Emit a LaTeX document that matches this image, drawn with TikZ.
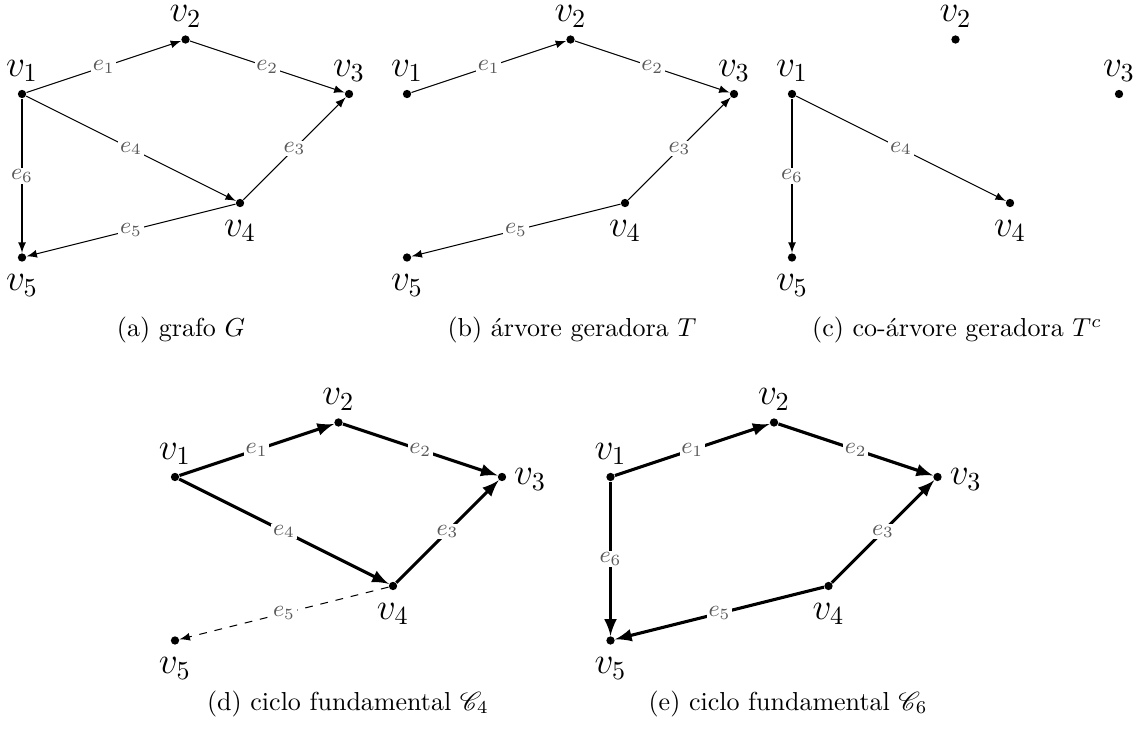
\documentclass[tikz,border=0pt]{standalone}
\usepackage{tikz}
\usetikzlibrary{arrows,positioning}
\usepackage{amsmath}
\usepackage{mathrsfs}

\begin{document}
\begin{tikzpicture}[x=0.7368cm, y=0.7368cm]

    % Styles for vertices, arcs and labels
    \tikzset{
        vertex/.style={circle, fill=black, inner sep=0pt, minimum size=3.2pt},
        every label/.style={font=\Large, inner sep=0pt, text height=8pt, text depth=2.2pt},
        label distance=2.7pt,
        arc/.style={-latex, black, line width=0.4pt},
        cyclearc/.style={-latex, black, line width=1.2pt},
        cotreearc/.style={-latex, black, dashed, line width=0.4pt},
        elabel/.style={midway, fill=white, text=black!65, inner sep=0.6pt, font=\small},
        subcap/.style={anchor=base, font=\normalsize}
    }

    \useasboundingbox (0,0) rectangle (20.917,-13.45);

    % (a) grafo G
    \begin{scope}[shift={(0.404,-1.725)}]
        \node[vertex, label=above:$v_1$] (a1) at (0,0) {};
        \node[vertex, label=above:$v_2$] (a2) at (3,1) {};
        \node[vertex, label=above:$v_3$] (a3) at (6,0) {};
        \node[vertex, label=below:$v_4$] (a4) at (4,-2) {};
        \node[vertex, label=below:$v_5$] (a5) at (0,-3) {};
        \draw[arc] (a1) -- node[elabel] {$e_1$} (a2);
        \draw[arc] (a2) -- node[elabel] {$e_2$} (a3);
        \draw[arc] (a4) -- node[elabel] {$e_3$} (a3);
        \draw[arc] (a1) -- node[elabel] {$e_4$} (a4);
        \draw[arc] (a4) -- node[elabel] {$e_5$} (a5);
        \draw[arc] (a1) -- node[elabel] {$e_6$} (a5);
    \end{scope}

    % (b) arvore geradora T
    \begin{scope}[shift={(7.468,-1.725)}]
        \node[vertex, label=above:$v_1$] (b1) at (0,0) {};
        \node[vertex, label=above:$v_2$] (b2) at (3,1) {};
        \node[vertex, label=above:$v_3$] (b3) at (6,0) {};
        \node[vertex, label=below:$v_4$] (b4) at (4,-2) {};
        \node[vertex, label=below:$v_5$] (b5) at (0,-3) {};
        \draw[arc] (b1) -- node[elabel] {$e_1$} (b2);
        \draw[arc] (b2) -- node[elabel] {$e_2$} (b3);
        \draw[arc] (b4) -- node[elabel] {$e_3$} (b3);
        \draw[arc] (b4) -- node[elabel] {$e_5$} (b5);
    \end{scope}

    % (c) co-arvore geradora T^c
    \begin{scope}[shift={(14.532,-1.725)}]
        \node[vertex, label=above:$v_1$] (c1) at (0,0) {};
        \node[vertex, label=above:$v_2$] (c2) at (3,1) {};
        \node[vertex, label=above:$v_3$] (c3) at (6,0) {};
        \node[vertex, label=below:$v_4$] (c4) at (4,-2) {};
        \node[vertex, label=below:$v_5$] (c5) at (0,-3) {};
        \draw[arc] (c1) -- node[elabel] {$e_4$} (c4);
        \draw[arc] (c1) -- node[elabel] {$e_6$} (c5);
    \end{scope}

    % (d) ciclo fundamental C_4
    \begin{scope}[shift={(3.211,-8.752)}]
        \node[vertex, label=above:$v_1$] (d1) at (0,0) {};
        \node[vertex, label=above:$v_2$] (d2) at (3,1) {};
        \node[vertex, label=right:$v_3$] (d3) at (6,0) {};
        \node[vertex, label=below:$v_4$] (d4) at (4,-2) {};
        \node[vertex, label=below:$v_5$] (d5) at (0,-3) {};
        \draw[cyclearc] (d1) -- node[elabel] {$e_1$} (d2);
        \draw[cyclearc] (d2) -- node[elabel] {$e_2$} (d3);
        \draw[cyclearc] (d4) -- node[elabel] {$e_3$} (d3);
        \draw[cyclearc] (d1) -- node[elabel] {$e_4$} (d4);
        \draw[cotreearc] (d4) -- node[elabel] {$e_5$} (d5);
    \end{scope}

    % (e) ciclo fundamental C_6
    \begin{scope}[shift={(11.202,-8.752)}]
        \node[vertex, label=above:$v_1$] (e1) at (0,0) {};
        \node[vertex, label=above:$v_2$] (e2) at (3,1) {};
        \node[vertex, label=right:$v_3$] (e3) at (6,0) {};
        \node[vertex, label=below:$v_4$] (e4) at (4,-2) {};
        \node[vertex, label=below:$v_5$] (e5) at (0,-3) {};
        \draw[cyclearc] (e1) -- node[elabel] {$e_1$} (e2);
        \draw[cyclearc] (e2) -- node[elabel] {$e_2$} (e3);
        \draw[cyclearc] (e4) -- node[elabel] {$e_3$} (e3);
        \draw[cyclearc] (e4) -- node[elabel] {$e_5$} (e5);
        \draw[cyclearc] (e1) -- node[elabel] {$e_6$} (e5);
    \end{scope}

    % Subfigure captions
    \node[subcap] (capa) at (3.321,-6.183) {(a) grafo $G$};
    \node[subcap] (capb) at (10.495,-6.183) {(b) árvore geradora $T$};
    \node[subcap] (capc) at (17.56,-6.183) {(c) co-árvore geradora $T^c$};
    \node[subcap] (capd) at (6.385,-13.028) {(d) ciclo fundamental $\mathscr{C}_4$};
    \node[subcap] (cape) at (14.459,-13.028) {(e) ciclo fundamental $\mathscr{C}_6$};

\end{tikzpicture}
\end{document}
